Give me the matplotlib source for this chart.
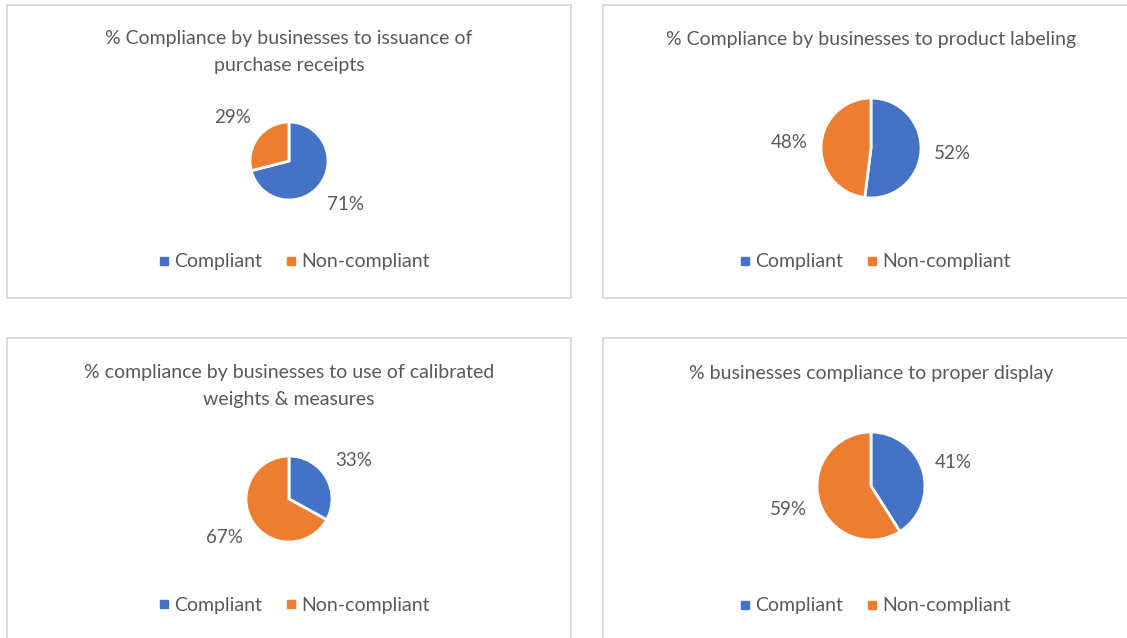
"""Four Excel-style compliance pies in bordered panels."""

import matplotlib
matplotlib.use("Agg")
import matplotlib.pyplot as plt
from matplotlib.lines import Line2D
from matplotlib.patches import Rectangle

plt.rcParams["font.family"] = ["Lato", "DejaVu Sans"]

TITLES = [
    "% Compliance by businesses to issuance of\npurchase receipts",
    "% Compliance by businesses to product labeling",
    "% compliance by businesses to use of calibrated\nweights & measures",
    "% businesses compliance to proper display",
]
CATEGORIES = ["Compliant", "Non-compliant"]
COMPLIANT = [71, 52, 33, 41]
NON_COMPLIANT = [29, 48, 67, 59]

BLUE = "#4472C4"
ORANGE = "#ED7D31"
TEXT = "#595959"
BORDER = "#D9D9D9"

W, H = 1127, 638

# panel layout in pixels: frame box, title centre, pie centre + radius, legend y
FRAMES = [(7, 5, 571, 298), (603, 5, 1140, 298), (7, 338, 571, 650), (603, 338, 1140, 650)]
TITLE_XY = [(289, 52), (871, 40), (289, 386), (871, 373)]
PIE_XYR = [(289, 161, 39), (871, 148, 50), (289, 499, 43), (871, 486, 54)]
LEGEND_XY = [(295, 261), (876, 261), (295, 604), (876, 605)]


def fx(x):
    return x / W


def fy(y):
    return 1 - y / H


fig = plt.figure(figsize=(W / 100, H / 100), dpi=100, facecolor="white")

for i in range(4):
    x0, y0, x1, y1 = FRAMES[i]
    fig.patches.append(Rectangle((fx(x0), fy(y1)), fx(x1 - x0), (y1 - y0) / H,
                                 transform=fig.transFigure, facecolor="none",
                                 edgecolor=BORDER, linewidth=1.3, zorder=-1))

    tx, ty = TITLE_XY[i]
    fig.text(fx(tx), fy(ty), TITLES[i], ha="center", va="center", fontsize=14,
             color=TEXT, linespacing=1.65)

    cx, cy, r = PIE_XYR[i]
    ax = fig.add_axes([fx(cx - r), fy(cy + r), 2 * r / W, 2 * r / H])
    ax.set_zorder(2)
    values = [COMPLIANT[i], NON_COMPLIANT[i]]
    wedges, _, autotexts = ax.pie(
        values, colors=[BLUE, ORANGE], startangle=90, counterclock=False,
        autopct="%1.0f%%", pctdistance=1 + 32 / r,
        wedgeprops=dict(edgecolor="white", linewidth=2.0),
        textprops=dict(color=TEXT, fontsize=13.5),
    )
    for t in autotexts:
        t.set_clip_on(False)
    ax.set_xlim(-1, 1)
    ax.set_ylim(-1, 1)
    ax.axis("off")

    lx, ly = LEGEND_XY[i]
    handles = [Line2D([], [], marker="s", linestyle="none", markersize=6,
                      markerfacecolor=c, markeredgecolor=c) for c in (BLUE, ORANGE)]
    fig.legend(handles, CATEGORIES, loc="center", bbox_to_anchor=(fx(lx - 3), fy(ly + 1)),
               ncol=2, frameon=False, fontsize=14, labelcolor=TEXT,
               handletextpad=0.0, columnspacing=1.0, handlelength=1.0)

fig.savefig("out.png", dpi=100, facecolor="white")
